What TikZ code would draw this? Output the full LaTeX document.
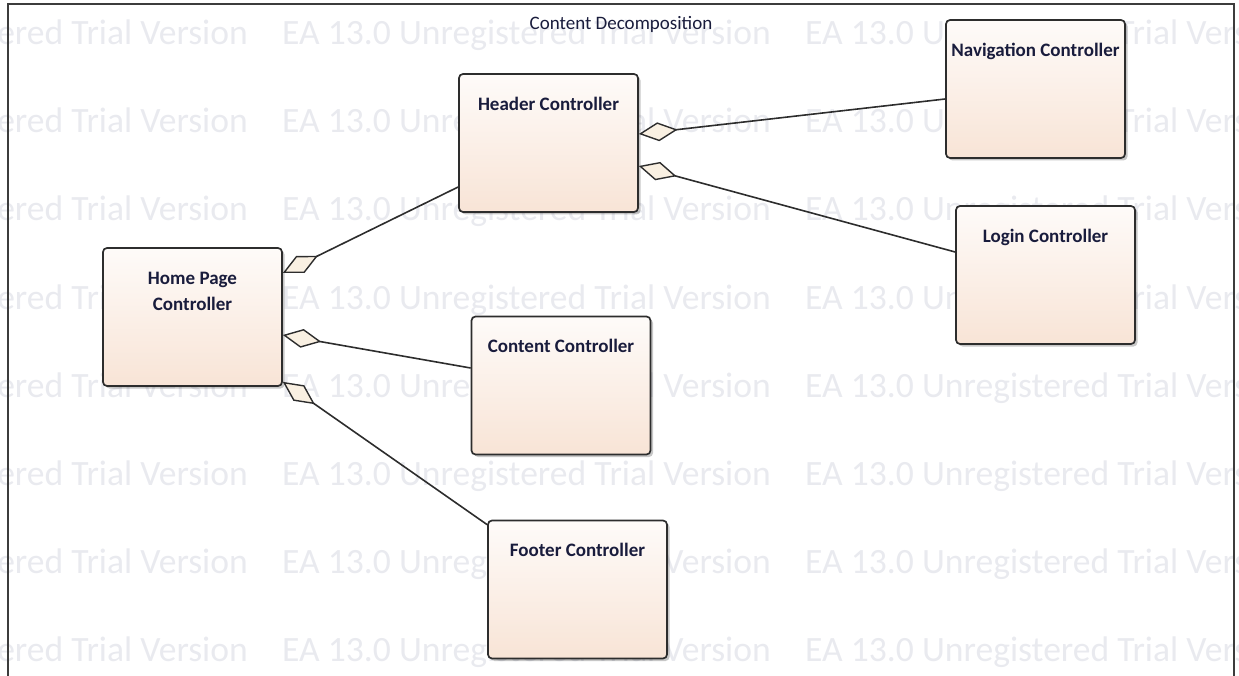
\documentclass[tikz,border=0pt]{standalone}
\usepackage{fontspec}
\setmainfont{Carlito}
\usetikzlibrary{arrows.meta,shadows}

\definecolor{wmark}{RGB}{233,234,239}
\definecolor{frameline}{RGB}{60,60,60}
\definecolor{boxtop}{RGB}{254,251,249}
\definecolor{boxbot}{RGB}{248,228,214}
\definecolor{boxline}{RGB}{45,45,45}
\definecolor{lbltext}{RGB}{25,28,60}
\definecolor{dmdfill}{RGB}{249,240,226}

\tikzset{
  ctrl/.style={draw=boxline, line width=1.7pt, rounded corners=4pt,
    top color=boxtop, bottom color=boxbot,
    minimum width=179pt, minimum height=138pt, inner sep=0pt,
    drop shadow={shadow xshift=2.5pt, shadow yshift=-2.5pt, opacity=0.22, fill=black}},
  lbl/.style={font=\fontsize{19}{26}\selectfont\bfseries, text=lbltext,
    anchor=base, inner sep=0pt, align=center},
  wm/.style={font=\fontsize{35.6}{40}\selectfont, text=wmark, anchor=base west, inner sep=0pt},
  agg/.style={draw=boxline, line width=1.6pt,
    {Diamond[fill=dmdfill, length=39pt, width=19pt, line width=1.4pt]}-}
}

\begin{document}
\begin{tikzpicture}[x=1pt, y=-1pt]
\useasboundingbox (0,0) rectangle (1239,676);

% repeated background lettering
\begin{scope}
  \clip (0,0) rectangle (1239,676);
  \foreach \r in {0,...,7} {
    \foreach \k in {0,1,2} {
      \node[wm] (wm-\r-\k) at (-241+523*\k, 45+88*\r) {EA 13.0 Unregistered Trial Version};
    }
  }
\end{scope}

% diagram frame, open at the bottom
\draw[frameline, line width=2pt] (8,676) -- (8,4) -- (1234,4) -- (1234,676);
\node[font=\fontsize{19}{22}\selectfont, text=lbltext, anchor=base, inner sep=0pt] (title) at (621,30) {Content Decomposition};

% controllers
\node[ctrl] (hdr) at (548.5,143) {};
\node[ctrl] (nav) at (1035.5,89) {};
\node[ctrl] (login) at (1045.5,275) {};
\node[ctrl] (home) at (192.5,317) {};
\node[ctrl] (content) at (561,385.5) {};
\node[ctrl] (footer) at (577.5,589.5) {};

\node[lbl] (hdr-t) at ([yshift=-37pt]hdr.north) {Header Controller};
\node[lbl] (nav-t) at ([yshift=-37pt]nav.north) {Navigation Controller};
\node[lbl] (login-t) at ([yshift=-37pt]login.north) {Login Controller};
% two-line label: base anchor sits on the last line
\node[lbl] (home-t) at ([yshift=-63pt]home.north) {Home Page\\Controller};
\node[lbl] (content-t) at ([yshift=-37pt]content.north) {Content Controller};
\node[lbl] (footer-t) at ([yshift=-37pt]footer.north) {Footer Controller};

% aggregation links (diamond at the whole)
\draw[agg] ([yshift=44pt]home.east) -- ([yshift=-44pt]hdr.west);
\draw[agg] ([yshift=-18pt]home.east) -- ([yshift=17.5pt]content.west);
\draw[agg] ([yshift=5pt]home.south east) -- ([yshift=-5pt]footer.north west);
\draw[agg] ([yshift=9pt]hdr.east) -- ([yshift=-10pt]nav.west);
\draw[agg] ([yshift=-23pt]hdr.east) -- ([yshift=23pt]login.west);
\end{tikzpicture}
\end{document}
